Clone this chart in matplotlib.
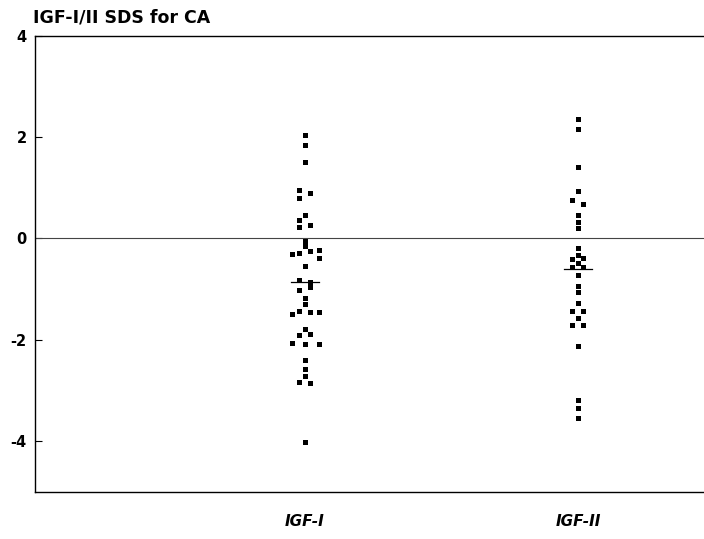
import numpy as np
import matplotlib
matplotlib.use('Agg')
import matplotlib.pyplot as plt

groups = ['IGF-I', 'IGF-II']

igf1 = [2.03, 1.85, 1.51, 0.96, 0.90, 0.80, 0.47, 0.37, 0.23, 0.26,
        -0.05, -0.15, -0.30, -0.29, -0.25, -0.23, -0.38, -0.54, -0.83, -0.85,
        -1.02, -0.96, -1.17, -1.30, -1.50, -1.43, -1.46, -1.45, -1.78, -1.90,
        -1.89, -2.07, -2.09, -2.09, -2.39, -2.58, -2.72, -2.84, -2.86, -4.02]
slot1 = [0, 0, 0, -1, 1, -1, 0, -1, -1, 1,
         0, 0, -2, -1, 1, 2, 2, 0, -1, 1,
         -1, 1, 0, 0, -2, -1, 1, 2, 0, -1,
         1, -2, 0, 2, 0, 0, 0, -1, 1, 0]

igf2 = [2.36, 2.16, 1.41, 0.94, 0.75, 0.67, 0.47, 0.33, 0.20, -0.18,
        -0.33, -0.41, -0.39, -0.49, -0.57, -0.57, -0.72, -0.94, -1.06, -1.27,
        -1.43, -1.43, -1.56, -1.71, -1.71, -2.13, -3.18, -3.35, -3.55]
slot2 = [0, 0, 0, 0, -1, 1, 0, 0, 0, 0,
         0, -1, 1, 0, -1, 1, 0, 0, 0, 0,
         -1, 1, 0, -1, 1, 0, 0, 0, 0]

px = 1 / 273.0  # data units per pixel along x
slot_px = {-2: -13, -1: -5.5, 0: 0, 1: 5.5, 2: 14}

fig = plt.figure(figsize=(7.04, 5.39), dpi=100)
ax = fig.add_axes([35 / 704, 47 / 539, 1 - 35 / 704, (492 - 35.5) / 539])

for i, (vals, slots) in enumerate([(igf1, slot1), (igf2, slot2)]):
    xc = i + 1
    xs = [xc + slot_px[s] * px for s in slots]
    ax.plot(xs, vals, 's', color='black', markersize=3.6, markeredgewidth=0)
    m = np.mean(vals)
    ax.plot([xc - 14 * px, xc + 14 * px], [m, m], color='black', linewidth=0.9)

ax.axhline(0, color='#444444', linewidth=0.8)

ax.set_xlim(1 - 270 * px, 2 + 126 * px)
ax.set_ylim(-5, 4)
ax.set_yticks([-4, -2, 0, 2, 4])
ax.set_yticklabels(['-4', '-2', '0', '2', '4'], fontweight='bold', fontsize=10.5)
ax.set_xticks([1, 2])
ax.set_xticklabels(groups, fontstyle='italic', fontweight='bold', fontsize=11)
ax.tick_params(axis='y', direction='in', length=5, width=0.8, pad=6)
ax.tick_params(axis='x', length=0, pad=16)
ax.spines['right'].set_visible(False)
for s in ['left', 'bottom', 'top']:
    ax.spines[s].set_linewidth(1.0)

fig.text(33 / 704, 1 - 18 / 539, 'IGF-I/II SDS for CA', fontsize=12.5,
         fontweight='bold', va='center', ha='left')

fig.savefig('out.png', dpi=100)
